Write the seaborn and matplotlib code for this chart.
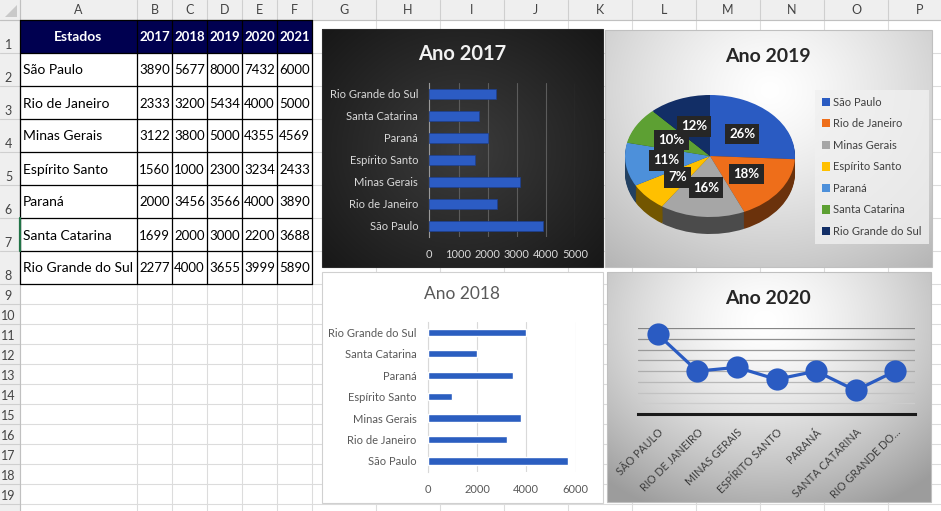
import numpy as np
import pandas as pd
import matplotlib
matplotlib.use("Agg")
import matplotlib.pyplot as plt
import seaborn as sns
from matplotlib.patches import Rectangle, Polygon
from matplotlib.colors import to_rgb

# ---------------- data ----------------
states = ["São Paulo", "Rio de Janeiro", "Minas Gerais", "Espírito Santo",
          "Paraná", "Santa Catarina", "Rio Grande do Sul"]
years = ["2017", "2018", "2019", "2020", "2021"]
v2017 = [3890, 2333, 3122, 1560, 2000, 1699, 2277]
v2018 = [5677, 3200, 3800, 1000, 3456, 2000, 4000]
v2019 = [8000, 5434, 5000, 2300, 3566, 3000, 3655]
v2020 = [7432, 4000, 4355, 3234, 4000, 2200, 3999]
v2021 = [6000, 5000, 4569, 2433, 3890, 3688, 5890]
col_letters = list("ABCDEFGHIJKLMNOP")
ticks_2017 = [0, 1000, 2000, 3000, 4000, 5000]
ticks_2018 = [0, 2000, 4000, 6000]
grid_2020 = [1000, 2000, 3000, 4000, 5000, 6000, 7000, 8000]
labels_2020 = ["SÃO PAULO", "RIO DE JANEIRO", "MINAS GERAIS", "ESPÍRITO SANTO",
               "PARANÁ", "SANTA CATARINA", "RIO GRANDE DO..."]
pie_colors = ["#2A5BC2", "#EE6E1A", "#A6A6A6", "#FFC000", "#4D90DA", "#5DA033", "#122E66"]

df = pd.DataFrame({"Estado": states, "2017": v2017, "2018": v2018,
                   "2019": v2019, "2020": v2020, "2021": v2021})

sns.set_theme(style="white")
plt.rcParams["font.family"] = ["Lato", "DejaVu Sans"]

W, H = 941, 511
fig = plt.figure(figsize=(W / 100, H / 100), dpi=100)
bg = fig.add_axes([0, 0, 1, 1])
bg.set_xlim(0, W)
bg.set_ylim(H, 0)
bg.axis("off")


def px_axes(x0, y0, x1, y1):
    a = fig.add_axes([x0 / W, 1 - y1 / H, (x1 - x0) / W, (y1 - y0) / H])
    a.set_facecolor("none")
    return a


def reset_bg():
    bg.set_xlim(0, W)
    bg.set_ylim(H, 0)
    bg.set_aspect("auto")


# ---------------- spreadsheet ----------------
col_x = [20, 137, 172, 207, 242, 277, 312, 376, 440, 504, 568, 632, 696, 760, 824, 888, 952]
row_y = [20, 53, 86, 119, 152, 185, 218, 251, 284] + [304 + 20 * k for k in range(12)]

bg.add_patch(Rectangle((0, 0), W, 20, fc="#efefef", ec="none", zorder=0))
bg.add_patch(Rectangle((0, 0), 20, H, fc="#efefef", ec="none", zorder=0))
bg.add_patch(Polygon([[17, 5], [17, 17], [5, 17]], closed=True, fc="#c9c9c9", ec="none", zorder=1))
for x in col_x:
    bg.plot([x, x], [20, H], color="#dcdcdc", lw=0.8, zorder=0.5)
    bg.plot([x, x], [0, 20], color="#cfcfcf", lw=0.8, zorder=0.5)
for y in row_y:
    bg.plot([20, W], [y, y], color="#dcdcdc", lw=0.8, zorder=0.5)
    bg.plot([0, 20], [y, y], color="#cfcfcf", lw=0.8, zorder=0.5)
bg.plot([0, W], [20, 20], color="#c0c0c0", lw=0.8, zorder=0.6)
bg.plot([20, 20], [0, H], color="#c0c0c0", lw=0.8, zorder=0.6)

for i, letter in enumerate(col_letters):
    bg.text((col_x[i] + col_x[i + 1]) / 2, 10.5, letter, ha="center", va="center",
            fontsize=9, color="#444444", zorder=1)
for i in range(19):
    bg.text(8.5, row_y[i + 1] - 8, str(i + 1), ha="center", va="center",
            fontsize=9, color="#444444", zorder=1)

# table
bg.add_patch(Rectangle((20, 20), 292, 33, fc="#000050", ec="none", zorder=1))
for y in row_y[:9]:
    bg.plot([20, 312], [y, y], color="black", lw=0.9, zorder=1.2)
for x in col_x[:7]:
    bg.plot([x, x], [20, 284], color="black", lw=0.9, zorder=1.2)
bg.plot([20, 20], [218, 251], color="#217346", lw=1.6, zorder=1.3)
bg.text(78, 37, "Estados", ha="center", va="center", color="white",
        fontsize=10, fontweight="bold", zorder=1.5)
for j, yr in enumerate(years):
    bg.text((col_x[j + 1] + col_x[j + 2]) / 2, 37, yr, ha="center", va="center",
            color="white", fontsize=9.5, fontweight="bold", zorder=1.5)
for i, st in enumerate(states):
    yc = (row_y[i + 1] + row_y[i + 2]) / 2 + 1
    bg.text(23, yc, st, ha="left", va="center", fontsize=10, color="black", zorder=1.5)
    for j, yr in enumerate(years):
        bg.text((col_x[j + 1] + col_x[j + 2]) / 2, yc, str(df[yr][i]), ha="center",
                va="center", fontsize=9.5, color="black", zorder=1.5)


# ---------------- chart backgrounds ----------------
def radial_bg(x0, y0, x1, y1, cx, cy, rx, ry, c_in, c_out, edge, gamma=1.0):
    w, h = int(x1 - x0), int(y1 - y0)
    X, Y = np.meshgrid(np.linspace(x0, x1, w), np.linspace(y0, y1, h))
    d = np.sqrt(((X - cx) / rx) ** 2 + ((Y - cy) / ry) ** 2)
    t = np.clip(d, 0, 1) ** gamma
    ci, co = np.array(to_rgb(c_in)), np.array(to_rgb(c_out))
    img = ci[None, None, :] * (1 - t)[..., None] + co[None, None, :] * t[..., None]
    bg.imshow(img, extent=(x0, x1, y1, y0), interpolation="bilinear", zorder=2)
    bg.add_patch(Rectangle((x0, y0), x1 - x0, y1 - y0, fc="none", ec=edge, lw=0.8, zorder=2.1))
    reset_bg()


radial_bg(322, 29, 603, 267, 462, 150, 210, 190, "#3c3c3c", "#141414", "#2a2a2a")
radial_bg(605, 30, 932, 267, 770, 90, 260, 230, "#ffffff", "#b4b4b4", "#c0c0c0", gamma=1.3)
bg.add_patch(Rectangle((322, 272), 281, 231, fc="white", ec="#d0d0d0", lw=0.8, zorder=2))
radial_bg(607, 272, 931, 502, 765, 320, 250, 210, "#ffffff", "#9c9c9c", "#c0c0c0", gamma=1.5)

# ---------------- Ano 2017 ----------------
ax1 = px_axes(429.3, 83, 575.3, 237)
sns.barplot(data=df, x="2017", y="Estado", order=states[::-1], orient="h",
            color="#2C5CC4", saturation=1, width=0.45, ax=ax1,
            edgecolor="#1d3f8f", linewidth=0.5, zorder=3)
ax1.set_xlim(0, 5000)
ax1.set_xticks(ticks_2017)
ax1.xaxis.grid(True, color="#5c5c5c", lw=0.8)
ax1.yaxis.grid(False)
ax1.set_axisbelow(True)
for s in ["top", "right", "bottom"]:
    ax1.spines[s].set_visible(False)
ax1.spines["left"].set_color("#9a9a9a")
ax1.spines["left"].set_linewidth(0.8)
ax1.tick_params(colors="#d9d9d9", labelsize=8, length=0)
ax1.tick_params(axis="y", pad=8)
ax1.tick_params(axis="x", pad=9)
ax1.set_xlabel("")
ax1.set_ylabel("")
bg.text(462, 54, "Ano 2017", ha="center", va="center", color="#f2f2f2",
        fontsize=14.5, fontweight="bold", zorder=3)

# ---------------- Ano 2018 ----------------
ax2 = px_axes(427.7, 321.7, 575.5, 471.7)
sns.barplot(data=df, x="2018", y="Estado", order=states[::-1], orient="h",
            color="#2B5EC0", saturation=1, width=0.34, ax=ax2, zorder=3)
ax2.set_xlim(0, 6000)
ax2.set_xticks(ticks_2018)
ax2.xaxis.grid(True, color="#d9d9d9", lw=0.8)
ax2.yaxis.grid(False)
ax2.set_axisbelow(True)
for s in ["top", "right", "bottom"]:
    ax2.spines[s].set_visible(False)
ax2.spines["left"].set_color("#d9d9d9")
ax2.spines["left"].set_linewidth(0.8)
ax2.tick_params(colors="#595959", labelsize=8, length=0)
ax2.tick_params(axis="y", pad=8)
ax2.tick_params(axis="x", pad=9)
ax2.set_xlabel("")
ax2.set_ylabel("")
bg.text(462, 294, "Ano 2018", ha="center", va="center", color="#595959",
        fontsize=12.5, zorder=3)

# ---------------- Ano 2019 (3D-looking pie) ----------------
vals = np.array(v2019, dtype=float)
raw = vals / vals.sum() * 100
fl = np.floor(raw).astype(int)
rem = 100 - fl.sum()
order_rem = np.argsort(-(raw - fl))
fl[order_rem[:rem]] += 1
pct_text = [f"{p}%" for p in fl]

ax3 = px_axes(625, 95, 795, 234)
depth = 17 / 61
dark = [tuple(np.array(to_rgb(c)) * 0.45) for c in pie_colors]
for k in np.linspace(depth, 0.02, 16):
    ax3.pie(vals, colors=dark, startangle=90, counterclock=False, center=(0, -k),
            radius=1, wedgeprops=dict(linewidth=0))
wedges, _, autotexts = ax3.pie(vals, colors=pie_colors, startangle=90, counterclock=False,
                               center=(0, 0), radius=1, autopct="%1.0f%%", pctdistance=0.52,
                               wedgeprops=dict(linewidth=0))
for t, s in zip(autotexts, pct_text):
    t.set_text(s)
    t.set_color("white")
    t.set_fontweight("bold")
    t.set_fontsize(9.5)
    t.set_bbox(dict(boxstyle="square,pad=0.32", fc="#262626", ec="none"))
ax3.set_aspect("auto")
ax3.set_xlim(-1, 1)
ax3.set_ylim(-1 - depth, 1)
ax3.axis("off")
leg = ax3.legend(wedges, states, loc="upper left", bbox_to_anchor=(815 / W, 1 - 90 / H),
                 bbox_transform=fig.transFigure, frameon=True, facecolor="#f0f0f0",
                 edgecolor="none", fancybox=False, fontsize=8, handlelength=0.75,
                 handleheight=0.75, handletextpad=0.3, labelspacing=0.95,
                 borderpad=0.6, borderaxespad=0)
for tx in leg.get_texts():
    tx.set_color("#404040")
bg.text(768, 57, "Ano 2019", ha="center", va="center", color="#262626",
        fontsize=14, fontweight="bold", zorder=3)

# ---------------- Ano 2020 ----------------
ax4 = px_axes(638, 328.3, 915, 414)
sns.lineplot(data=df, x="Estado", y="2020", sort=False, marker="o", markersize=16,
             linewidth=2.3, color="#2A5BC2", markeredgewidth=0, ax=ax4, zorder=4)
for ln in ax4.lines:
    ln.set_clip_on(False)
ax4.set_xlim(-0.5, 6.5)
ax4.set_ylim(0, 8000)
ax4.set_yticks(grid_2020)
ax4.set_yticklabels([])
ax4.yaxis.grid(True, color="#a0a0a0", lw=0.9)
ax4.xaxis.grid(False)
ax4.set_axisbelow(True)
gl = ax4.get_ygridlines()
shades = np.linspace(0.52, 0.80, len(gl))[::-1]
for g, s in zip(gl, shades):
    g.set_color((s, s, s))
for s in ["top", "right", "left"]:
    ax4.spines[s].set_visible(False)
ax4.spines["bottom"].set_color("#1a1a1a")
ax4.spines["bottom"].set_linewidth(2.2)
ax4.set_xticks(range(len(labels_2020)))
ax4.set_xticklabels(labels_2020, rotation=45, ha="right", rotation_mode="anchor",
                    fontsize=7.8, color="#404040")
ax4.tick_params(axis="x", length=0, pad=9)
ax4.tick_params(axis="y", length=0)
ax4.set_xlabel("")
ax4.set_ylabel("")
bg.text(768, 299, "Ano 2020", ha="center", va="center", color="#262626",
        fontsize=14, fontweight="bold", zorder=3)

fig.savefig("out.png", dpi=100)
